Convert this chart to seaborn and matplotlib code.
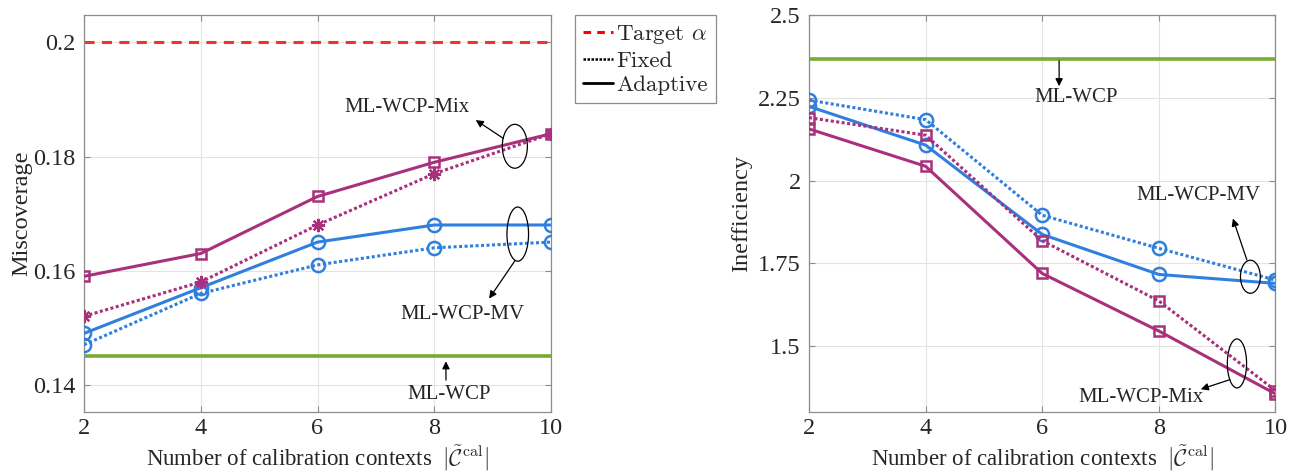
import numpy as np
import pandas as pd
import matplotlib
matplotlib.use("Agg")
import matplotlib.pyplot as plt
from matplotlib.patches import Ellipse
from matplotlib.lines import Line2D
import seaborn as sns

# ---------------- data ----------------
n_contexts = [2, 4, 6, 8, 10]

# Left panel: Miscoverage
mis_mix_adaptive = [0.159, 0.163, 0.173, 0.179, 0.184]
mis_mix_fixed = [0.152, 0.158, 0.168, 0.177, 0.184]
mis_mv_adaptive = [0.149, 0.157, 0.165, 0.168, 0.168]
mis_mv_fixed = [0.147, 0.156, 0.161, 0.164, 0.165]
mis_mlwcp = 0.145
target_alpha = 0.2

# Right panel: Inefficiency
ineff_mix_adaptive = [2.156, 2.043, 1.719, 1.545, 1.355]
ineff_mix_fixed = [2.190, 2.137, 1.818, 1.636, 1.365]
ineff_mv_adaptive = [2.224, 2.107, 1.837, 1.716, 1.689]
ineff_mv_fixed = [2.243, 2.184, 1.895, 1.795, 1.699]
ineff_mlwcp = 2.368

left_yticks = [0.14, 0.16, 0.18, 0.2]
left_yticklabels = ["0.14", "0.16", "0.18", "0.2"]
right_yticks = [1.5, 1.75, 2.0, 2.25, 2.5]
right_yticklabels = ["1.5", "1.75", "2", "2.25", "2.5"]
xticks = [2, 4, 6, 8, 10]

# ---------------- style ----------------
sns.set_theme(style="white")
plt.rcParams["font.family"] = ["Liberation Serif", "DejaVu Serif"]
plt.rcParams["mathtext.fontset"] = "cm"

C_MIX = "#A8307C"
C_MV = "#2F80DE"
C_GREEN = "#77AC30"
C_RED = "#F03232"
SPINE = "#8c8c8c"
GRID = "#e3e3e3"

fig = plt.figure(figsize=(12.95, 4.72), dpi=100)
axL = fig.add_axes([0.0649, 0.127, 0.3606, 0.841])
axR = fig.add_axes([0.6247, 0.127, 0.3602, 0.841])

dotted = (0, (1.0, 0.8))


def draw(ax, y, color, marker, ls, ms, mew=1.8):
    df = pd.DataFrame({"x": n_contexts, "y": y})
    sns.lineplot(data=df, x="x", y="y", ax=ax, color=color, linestyle=ls,
                 linewidth=2.2, marker=marker, markersize=ms,
                 markerfacecolor="none", markeredgecolor=color,
                 markeredgewidth=mew, legend=False, zorder=3)


def style_axes(ax):
    ax.set_xlim(2, 10)
    ax.set_xticks(xticks)
    ax.set_xticklabels([str(v) for v in xticks])
    ax.grid(True, color=GRID, linewidth=0.8)
    for s in ax.spines.values():
        s.set_color(SPINE)
        s.set_linewidth(0.9)
        s.set_visible(True)
    ax.tick_params(direction="in", length=4, width=0.8, color=SPINE,
                   top=True, right=True, bottom=True, left=True,
                   labelsize=17.5, pad=6)
    ax.tick_params(axis="x", pad=4.5)
    ax.set_xlabel(r"Number of calibration contexts  $|\tilde{\mathcal{C}}^{\mathrm{cal}}|$",
                  fontsize=16.5)
    ax.xaxis.label.set_va("baseline")
    ax.xaxis.set_label_coords(0.5, -0.1355)


# ---- left panel ----
sns.lineplot(x=[2, 10], y=[target_alpha] * 2, ax=axL, color=C_RED,
             linestyle=(0, (3.3, 2.4)), linewidth=2.2, legend=False, zorder=2)
sns.lineplot(x=[2, 10], y=[mis_mlwcp] * 2, ax=axL, color=C_GREEN,
             linewidth=2.6, legend=False, zorder=2)
draw(axL, mis_mv_fixed, C_MV, "o", dotted, 9.5)
draw(axL, mis_mv_adaptive, C_MV, "o", "-", 9.5)
draw(axL, mis_mix_fixed, C_MIX, (8, 2, 0), dotted, 9.5, mew=1.6)
draw(axL, mis_mix_adaptive, C_MIX, "s", "-", 6.5)
style_axes(axL)
axL.set_ylim(0.1352, 0.2048)
axL.set_yticks(left_yticks)
axL.set_yticklabels(left_yticklabels)
axL.set_ylabel("Miscoverage", fontsize=17.5, labelpad=1)

ann = dict(fontsize=15, ha="center", va="center", zorder=5)
arrow = dict(arrowstyle="-|>", color="black", lw=0.9, mutation_scale=11,
             shrinkA=0, shrinkB=0)

axL.add_patch(Ellipse((9.38, 0.1818), 0.43, 0.0077, fill=False, ec="black", lw=0.9, zorder=5))
axL.annotate("", xy=(8.71, 0.1864), xytext=(9.18, 0.1832), arrowprops=arrow)
axL.text(7.53, 0.1886, "ML-WCP-Mix", **ann)

axL.add_patch(Ellipse((9.43, 0.1664), 0.37, 0.0095, fill=False, ec="black", lw=0.9, zorder=5))
axL.annotate("", xy=(8.94, 0.1551), xytext=(9.38, 0.1617), arrowprops=arrow)
axL.text(8.48, 0.1523, "ML-WCP-MV", **ann)

axL.annotate("", xy=(8.2, 0.1441), xytext=(8.2, 0.1408), arrowprops=arrow)
axL.text(8.25, 0.1382, "ML-WCP", **ann)

# ---- right panel ----
sns.lineplot(x=[2, 10], y=[ineff_mlwcp] * 2, ax=axR, color=C_GREEN,
             linewidth=2.6, legend=False, zorder=2)
draw(axR, ineff_mv_fixed, C_MV, "o", dotted, 9.5)
draw(axR, ineff_mv_adaptive, C_MV, "o", "-", 9.5)
draw(axR, ineff_mix_fixed, C_MIX, "s", dotted, 6.5)
draw(axR, ineff_mix_adaptive, C_MIX, "s", "-", 6.5)
style_axes(axR)
axR.set_ylim(1.30, 2.5)
axR.set_yticks(right_yticks)
axR.set_yticklabels(right_yticklabels)
axR.set_ylabel("Inefficiency", fontsize=17.5, labelpad=4)

axR.annotate("", xy=(6.29, 2.285), xytext=(6.29, 2.362), arrowprops=arrow)
axR.text(6.58, 2.25, "ML-WCP", **ann)

axR.add_patch(Ellipse((9.57, 1.709), 0.34, 0.1, fill=False, ec="black", lw=0.9, zorder=5))
axR.annotate("", xy=(9.27, 1.885), xytext=(9.51, 1.76), arrowprops=arrow)
axR.text(8.68, 1.956, "ML-WCP-MV", **ann)

axR.add_patch(Ellipse((9.34, 1.447), 0.33, 0.148, fill=False, ec="black", lw=0.9, zorder=5))
axR.annotate("", xy=(8.72, 1.369), xytext=(9.22, 1.398), arrowprops=arrow)
axR.text(7.69, 1.345, "ML-WCP-Mix", **ann)

# ---- legend ----
handles = [
    Line2D([], [], color="red", linestyle=(0, (2.5, 2.0)), linewidth=2.2),
    Line2D([], [], color="black", linestyle=(0, (1, 0.6)), linewidth=1.8),
    Line2D([], [], color="black", linestyle="-", linewidth=2.0),
]
labels = [r"Target $\alpha$", "Fixed", "Adaptive"]
leg = fig.legend(handles, labels, loc="upper left", bbox_to_anchor=(0.444, 0.968),
                 frameon=True, fancybox=False, edgecolor=SPINE, framealpha=1,
                 borderaxespad=0, handlelength=1.3, handletextpad=0.15,
                 labelspacing=0.2, borderpad=0.35,
                 prop={"family": "cmr10", "size": 16.5})
leg.get_frame().set_linewidth(0.9)

fig.savefig("out.png", dpi=100)
